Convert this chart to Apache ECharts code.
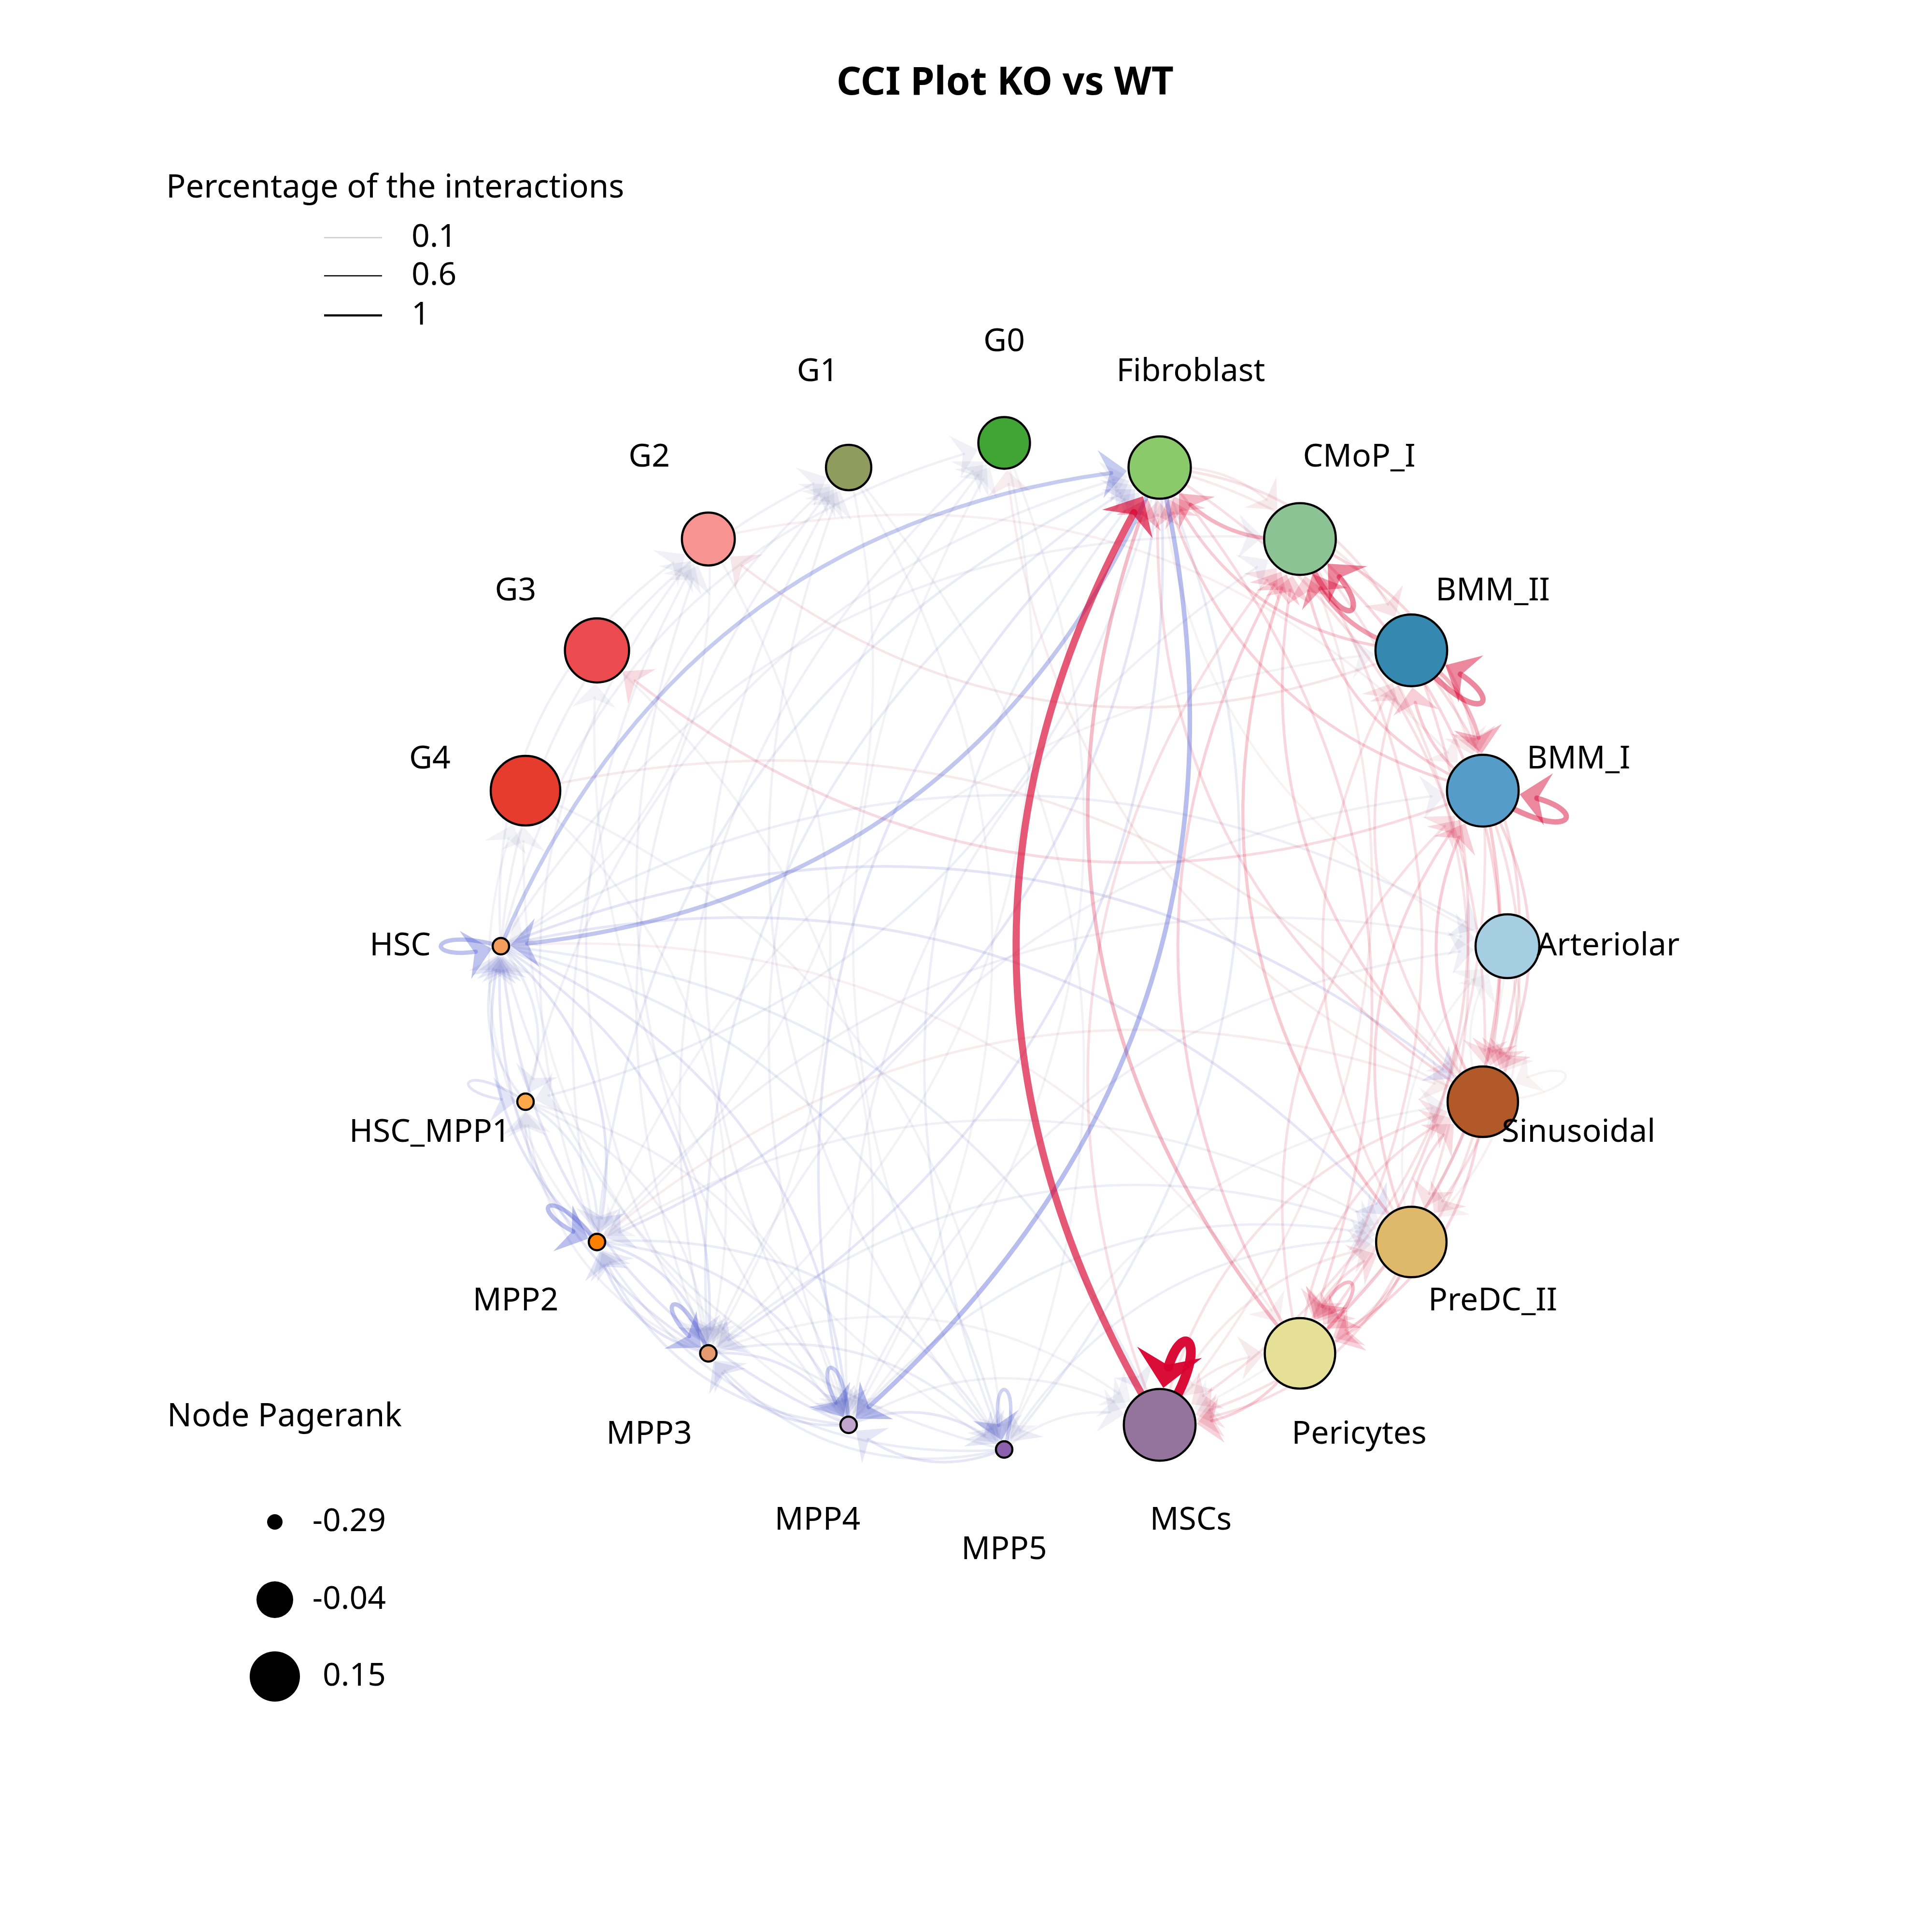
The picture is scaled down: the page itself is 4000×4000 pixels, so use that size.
<!DOCTYPE html>
<html><head><meta charset="utf-8">
<script src="https://cdn.jsdelivr.net/npm/echarts@6/dist/echarts.min.js"></script>
<style>html,body{margin:0;padding:0;background:#fff}#chart{width:4000px;height:4000px}</style>
</head><body><div id="chart"></div>
<script>
// ---------------- DATA ----------------
const nodeNames = ['G0','Fibroblast','CMoP_I','BMM_II','BMM_I','Arteriolar','Sinusoidal','PreDC_II','Pericytes','MSCs',
  'MPP5','MPP4','MPP3','MPP2','HSC_MPP1','HSC','G4','G3','G2','G1'];
const nodePagerank = [-0.01,0.075,0.15,0.15,0.15,0.087,0.14,0.14,0.14,0.15,
  -0.29,-0.29,-0.29,-0.29,-0.29,-0.29,0.133,0.09,0.0,-0.06];

const edgeSource = [
 'MSCs','MSCs','Pericytes','Fibroblast','CMoP_I','BMM_II','BMM_I','Pericytes','BMM_II','CMoP_I',
 'BMM_II','BMM_I','BMM_II','BMM_I','Sinusoidal','PreDC_II','Pericytes','MSCs','CMoP_I','BMM_II',
 'BMM_I','Fibroblast','PreDC_II','MSCs','Pericytes','BMM_I','BMM_II','CMoP_I','Sinusoidal','PreDC_II',
 'Pericytes','CMoP_I','BMM_I','Sinusoidal','PreDC_II','Pericytes','CMoP_I','Sinusoidal','PreDC_II','Fibroblast',
 'Sinusoidal','BMM_I','Pericytes','PreDC_II','Sinusoidal','BMM_I','CMoP_I','BMM_I','BMM_II','G4',
 'Sinusoidal','MPP2','HSC','Arteriolar','Sinusoidal','Arteriolar','MSCs','MSCs','Fibroblast','Fibroblast',
 'Arteriolar','G2',
 'Fibroblast','HSC','Fibroblast','HSC','MPP2','MPP3','MPP4','MPP5','HSC_MPP1','HSC',
 'HSC','HSC','HSC','HSC','HSC','HSC','HSC','MPP2','MPP3','MPP4',
 'MPP5','MPP2','MPP3','MPP3','MPP4','MPP4','MPP5','MPP2','MPP4','MPP2',
 'MPP5','MPP3','MPP5','HSC_MPP1','HSC_MPP1','MPP2','MPP3','Fibroblast','Fibroblast','Fibroblast',
 'Fibroblast','MPP2','MPP3','MPP4','MPP5','MPP2','MPP3','MPP4','HSC','MPP5',
 'HSC','MPP2','MPP3','MPP4','MPP3','MPP4','HSC','MPP5','MPP2','MPP4',
 'HSC','MPP3','MPP4','MPP5','MPP2','MPP4','HSC','MPP3','MPP4','MPP5',
 'MPP3','MPP2','MPP4','MPP5','G0','G1','G2','G0','G1','G3',
 'G4','G4','HSC_MPP1','HSC_MPP1','HSC_MPP1','MPP5','MPP2','Arteriolar','PreDC_II','Sinusoidal',
 'G1','G2'];
const edgeTarget = [
 'Fibroblast','MSCs','Fibroblast','Pericytes','CMoP_I','BMM_II','BMM_I','Pericytes','CMoP_I','Fibroblast',
 'BMM_I','BMM_II','Fibroblast','Fibroblast','Fibroblast','CMoP_I','CMoP_I','CMoP_I','Sinusoidal','Sinusoidal',
 'Sinusoidal','Sinusoidal','Sinusoidal','Sinusoidal','Sinusoidal','Pericytes','Pericytes','Pericytes','Pericytes','Pericytes',
 'PreDC_II','PreDC_II','PreDC_II','BMM_I','BMM_I','BMM_I','BMM_I','BMM_II','BMM_II','BMM_II',
 'CMoP_I','CMoP_I','MSCs','MSCs','MSCs','MSCs','MSCs','G3','G2','Sinusoidal',
 'G0','Sinusoidal','Pericytes','Sinusoidal','Sinusoidal','Fibroblast','Pericytes','PreDC_II','CMoP_I','BMM_I',
 'PreDC_II','BMM_I',
 'HSC','Fibroblast','MPP4','HSC','MPP2','MPP3','MPP4','MPP5','HSC_MPP1','Sinusoidal',
 'PreDC_II','MSCs','MPP2','MPP3','MPP4','MPP5','HSC_MPP1','HSC','HSC','HSC',
 'HSC','MPP3','MPP2','MPP4','MPP3','MPP5','MPP4','MPP4','MPP2','MPP5',
 'MPP2','MPP5','MPP3','HSC','MPP2','HSC_MPP1','HSC_MPP1','MPP2','MPP3','MPP5',
 'HSC_MPP1','Fibroblast','Fibroblast','Fibroblast','Fibroblast','G1','G1','G1','G1','G1',
 'G2','G2','G2','G2','G0','G0','G0','G0','Arteriolar','Arteriolar',
 'Arteriolar','PreDC_II','PreDC_II','PreDC_II','PreDC_II','CMoP_I','CMoP_I','BMM_I','MSCs','MSCs',
 'MSCs','G4','G4','G3','MPP4','MPP5','MPP3','MPP3','MPP4','MPP4',
 'MPP3','MPP5','MPP3','MPP4','Fibroblast','Sinusoidal','BMM_II','MSCs','Arteriolar','Arteriolar',
 'MPP2','HSC'];
const edgeValue = [
 0.66,1.00,0.22,0.10,0.45,0.45,0.45,0.22,0.35,0.25,
 0.25,0.14,0.14,0.12,0.10,0.15,0.12,0.09,0.11,0.10,
 0.11,0.09,0.10,0.08,0.09,0.15,0.10,0.09,0.11,0.12,
 0.09,0.08,0.09,0.14,0.11,0.09,0.11,0.09,0.08,0.08,
 0.11,0.12,0.12,0.09,0.08,0.08,0.06,0.10,0.07,0.06,
 0.05,0.05,0.04,0.05,0.03,0.03,0.06,0.06,0.06,0.06,
 0.04,0.04,
 -0.28,-0.25,-0.34,-0.30,-0.32,-0.30,-0.25,-0.20,-0.10,-0.10,
 -0.09,-0.07,-0.10,-0.09,-0.09,-0.07,-0.07,-0.10,-0.09,-0.09,
 -0.06,-0.10,-0.10,-0.09,-0.09,-0.09,-0.09,-0.08,-0.08,-0.07,
 -0.07,-0.07,-0.07,-0.07,-0.07,-0.06,-0.05,-0.09,-0.09,-0.07,
 -0.06,-0.07,-0.07,-0.09,-0.06,-0.05,-0.05,-0.05,-0.05,-0.05,
 -0.05,-0.05,-0.05,-0.05,-0.05,-0.05,-0.05,-0.04,-0.05,-0.05,
 -0.06,-0.06,-0.06,-0.06,-0.05,-0.05,-0.05,-0.05,-0.05,-0.05,
 -0.04,-0.04,-0.04,-0.04,-0.04,-0.04,-0.04,-0.04,-0.04,-0.04,
 -0.04,-0.04,-0.05,-0.05,-0.05,-0.04,-0.04,-0.03,-0.03,-0.03,
 -0.04,-0.04];

const widthLegendValues = ['0.1','0.6','1'];
const pagerankLegendValues = ['-0.29','-0.04','0.15'];
const titleText = 'CCI Plot KO vs WT';

// ---------------- STYLE ----------------
const FONT = '"Noto Sans", "Open Sans", sans-serif';
const NODE_COLORS = {
 'G0':'#41a535','Fibroblast':'#8aca6a','CMoP_I':'#8cc394','BMM_II':'#3588b0','BMM_I':'#559cc8',
 'Arteriolar':'#a6cee3','Sinusoidal':'#b15928','PreDC_II':'#dfb96a','Pericytes':'#e6e096','MSCs':'#94739c',
 'MPP5':'#8b61ad','MPP4':'#c2a5cf','MPP3':'#e49a6e','MPP2':'#ff7f00','HSC_MPP1':'#fca84a','HSC':'#f59d5a',
 'G4':'#e63c2d','G3':'#eb4a4f','G2':'#f79391','G1':'#8f9c5e'};
const CURVENESS = 0.3;
const LABEL_RADIUS = 1.2;
const BORDER_W = 4.5;

// layout: nodes evenly around a unit circle, starting at the top, clockwise
const N = nodeNames.length;
const nodeAngle = nodeNames.map((_, i) => 90 - 360 / N * i);
const nodeXY = nodeAngle.map(a => [Math.cos(a * Math.PI / 180), Math.sin(a * Math.PI / 180)]);
const labelXY = nodeXY.map(p => [p[0] * LABEL_RADIUS, p[1] * LABEL_RADIUS]);
const idx = {}; nodeNames.forEach((n, i) => idx[n] = i);

function nodeSize(pr) { return 34 + (pr + 0.29) * 260; }
function nodeRadiusPx(i) { return nodeSize(nodePagerank[i]) / 2 + BORDER_W / 2; }
function edgeWidth(v) { return 4 + 16 * Math.abs(v); }
function edgeRGBA(v) {
  const a = Math.abs(v);
  const hue = v > 0 ? [215, 0, 45] : [60, 75, 205];
  const grey = [165, 160, 160];
  const k = Math.min(1, a / 0.12);
  const c = grey.map((g, i) => Math.round(g + (hue[i] - g) * k));
  const alpha = Math.min(1, 0.07 + 0.88 * a);
  return 'rgba(' + c.join(',') + ',' + alpha.toFixed(3) + ')';
}

const edgeData = edgeSource.map((s, i) => [idx[s], idx[edgeTarget[i]], edgeValue[i]])
  .sort((a, b) => Math.abs(a[2]) - Math.abs(b[2]));

function lerp(a, b, t) { return [a[0] + (b[0] - a[0]) * t, a[1] + (b[1] - a[1]) * t]; }

function renderEdge(params, api) {
  const s = api.value(0), t = api.value(1), v = api.value(2);
  const P0 = api.coord(nodeXY[s]);
  const P3 = api.coord(nodeXY[t]);
  const rT = nodeRadiusPx(t);
  const w = edgeWidth(v);
  const col = edgeRGBA(v);
  const W = 38 + 1.5 * w, L = 1.1 * W;
  let pt, dv, cutShape;
  if (s === t) {
    const ang = nodeAngle[t] * Math.PI / 180;
    const d = [Math.cos(ang), Math.sin(ang)];
    const th = 16 * Math.PI / 180;
    const D = (rT + 105) / (0.75 * Math.cos(th));
    const rot = (vv, a) => [vv[0] * Math.cos(a) - vv[1] * Math.sin(a), vv[0] * Math.sin(a) + vv[1] * Math.cos(a)];
    const r1 = rot(d, th), r2 = rot(d, -th);
    const C1 = [P0[0] + D * r1[0], P0[1] + D * r1[1]];
    const C2 = [P0[0] + D * r2[0], P0[1] + D * r2[1]];
    pt = u => { const m = 1 - u; return [m*m*m*P0[0] + 3*m*m*u*C1[0] + 3*m*u*u*C2[0] + u*u*u*P3[0],
                                       m*m*m*P0[1] + 3*m*m*u*C1[1] + 3*m*u*u*C2[1] + u*u*u*P3[1]]; };
    dv = u => { const m = 1 - u; return [3*m*m*(C1[0]-P0[0]) + 6*m*u*(C2[0]-C1[0]) + 3*u*u*(P3[0]-C2[0]),
                                        3*m*m*(C1[1]-P0[1]) + 6*m*u*(C2[1]-C1[1]) + 3*u*u*(P3[1]-C2[1])]; };
    cutShape = u => { const A = lerp(P0, C1, u), B = lerp(C1, C2, u), C = lerp(C2, P3, u);
      const D1 = lerp(A, B, u), D2 = lerp(B, C, u), E = lerp(D1, D2, u);
      return {x1: P0[0], y1: P0[1], cpx1: A[0], cpy1: A[1], cpx2: D1[0], cpy2: D1[1], x2: E[0], y2: E[1]}; };
  } else {
    const CP = [(P0[0] + P3[0]) / 2 - (P0[1] - P3[1]) * CURVENESS, (P0[1] + P3[1]) / 2 - (P3[0] - P0[0]) * CURVENESS];
    pt = u => { const m = 1 - u; return [m*m*P0[0] + 2*m*u*CP[0] + u*u*P3[0], m*m*P0[1] + 2*m*u*CP[1] + u*u*P3[1]]; };
    dv = u => [2*(1-u)*(CP[0]-P0[0]) + 2*u*(P3[0]-CP[0]), 2*(1-u)*(CP[1]-P0[1]) + 2*u*(P3[1]-CP[1])];
    cutShape = u => { const Q1 = lerp(P0, CP, u), Q2 = pt(u);
      return {x1: P0[0], y1: P0[1], cpx1: Q1[0], cpy1: Q1[1], x2: Q2[0], y2: Q2[1]}; };
  }
  const dist = u => { const p = pt(u); return Math.hypot(p[0] - P3[0], p[1] - P3[1]); };
  let tTip = 1;
  for (let u = 1; u > 0; u -= 0.001) { if (dist(u) >= rT) { tTip = u; break; } }
  let tCut = tTip;
  for (let u = tTip; u > 0; u -= 0.001) { if (dist(u) >= rT + 0.6 * L) { tCut = u; break; } }
  const tip = pt(tTip);
  let dd = dv(tTip); const len = Math.hypot(dd[0], dd[1]) || 1; dd = [dd[0] / len, dd[1] / len];
  const perp = [-dd[1], dd[0]];
  const base = [tip[0] - dd[0] * L, tip[1] - dd[1] * L];
  const notch = [tip[0] - dd[0] * 0.65 * L, tip[1] - dd[1] * 0.65 * L];
  const c1 = [base[0] + perp[0] * W, base[1] + perp[1] * W];
  const c2 = [base[0] - perp[0] * W, base[1] - perp[1] * W];
  return {
    type: 'group',
    children: [
      {type: 'bezierCurve', shape: cutShape(tCut), style: {stroke: col, lineWidth: w, fill: null, lineCap: 'round'}, silent: true},
      {type: 'polygon', shape: {points: [tip, c1, notch, c2]}, style: {fill: col, stroke: null}, silent: true}
    ]
  };
}

const chart = echarts.init(document.getElementById('chart'), null, {renderer: 'canvas'});

const txt = (x, y, text, size, align, weight) => ({
  type: 'text', x: x, y: y, silent: true,
  style: {text: text, fill: '#000', font: (weight || 'normal') + ' ' + size + 'px ' + FONT,
          align: align || 'left', verticalAlign: 'middle', textAlign: align || 'left', textVerticalAlign: 'middle'}
});

const legendLineStyles = [{stroke: '#cccccc', lineWidth: 2.6}, {stroke: '#000', lineWidth: 2.6}, {stroke: '#000', lineWidth: 4.6}];
const legendLineY = [492, 571, 653];
const legendDotY = [3151, 3312, 3471];
const legendDotR = [16, 38, 52];

const graphics = [txt(2081, 173, titleText, 80, 'center', 'bold'),
  txt(344, 390, 'Percentage of the interactions', 67, 'left'),
  txt(346, 2934, 'Node Pagerank', 67, 'left')];
widthLegendValues.forEach((lab, i) => {
  graphics.push({type: 'line', silent: true, shape: {x1: 671, y1: legendLineY[i], x2: 791, y2: legendLineY[i]}, style: legendLineStyles[i]});
  graphics.push(txt(852, legendLineY[i], lab, 66, 'left'));
});
pagerankLegendValues.forEach((lab, i) => {
  graphics.push({type: 'circle', silent: true, shape: {cx: 569, cy: legendDotY[i], r: legendDotR[i]}, style: {fill: '#000'}});
  graphics.push(txt(799, legendDotY[i], lab, 66, 'right'));
});

chart.setOption({
  animation: false,
  backgroundColor: '#ffffff',
  grid: {left: 516, top: 396, width: 3126, height: 3126, show: false},
  xAxis: {type: 'value', min: -1.5, max: 1.5, show: false, splitLine: {show: false}},
  yAxis: {type: 'value', min: -1.5, max: 1.5, show: false, splitLine: {show: false}},
  graphic: graphics,
  series: [
    {
      type: 'custom', name: 'edges', coordinateSystem: 'cartesian2d', z: 1, silent: true, clip: false,
      encode: {x: -1, y: -1},
      data: edgeData, renderItem: renderEdge
    },
    {
      type: 'scatter', name: 'nodes', z: 3, silent: true,
      symbol: 'circle',
      symbolSize: val => nodeSize(val[2]),
      itemStyle: {borderColor: '#000', borderWidth: BORDER_W, opacity: 1},
      data: nodeNames.map((n, i) => ({name: n, value: [nodeXY[i][0], nodeXY[i][1], nodePagerank[i]], itemStyle: {color: NODE_COLORS[n]}}))
    },
    {
      type: 'scatter', name: 'labels', z: 5, silent: true,
      symbolSize: 0,
      itemStyle: {opacity: 1, color: 'rgba(0,0,0,0)'},
      label: {show: true, position: 'inside', formatter: p => p.name, color: '#000', opacity: 1,
              textBorderWidth: 0, textBorderColor: 'transparent', fontSize: 66, fontFamily: FONT},
      data: nodeNames.map((n, i) => ({name: n, value: labelXY[i]}))
    }
  ]
});
</script></body></html>
